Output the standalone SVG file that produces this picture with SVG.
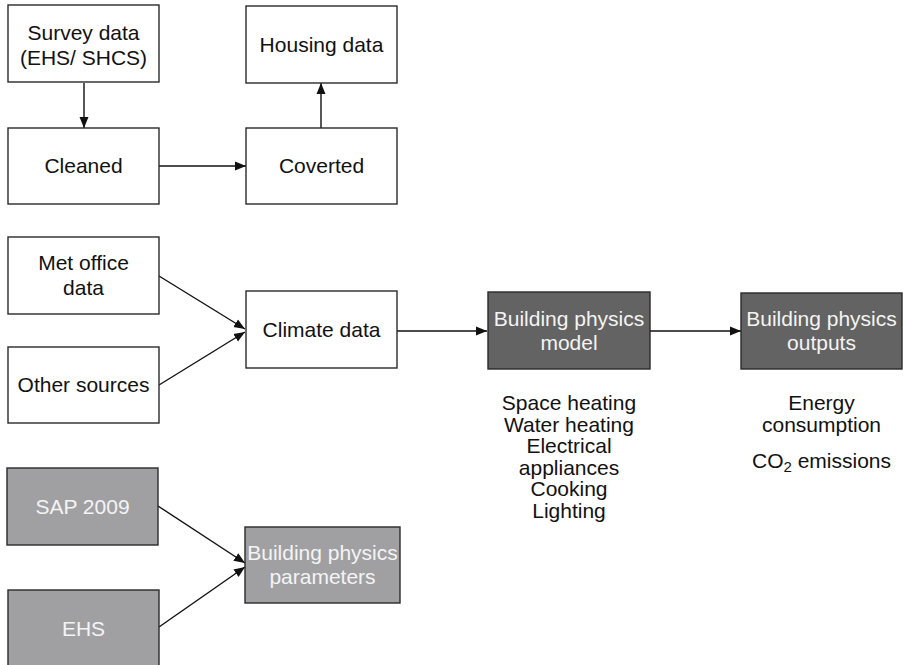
<svg xmlns="http://www.w3.org/2000/svg" width="903" height="665" viewBox="0 0 903 665">
<style>
.box{fill:#fff;stroke:#2a2a2a;stroke-width:1.4}
.lg{fill:#a0a0a3;stroke:#2a2a2a;stroke-width:1.4}
.dg{fill:#636363;stroke:#2a2a2a;stroke-width:1.4}
text{font-family:"Liberation Sans",Arial,sans-serif;font-size:21px;text-anchor:middle;fill:#111}
.w{fill:#f4f4f4}
.ln{stroke:#111;stroke-width:1.4;fill:none;marker-end:url(#ah)}
</style>
<defs>
<marker id="ah" markerUnits="userSpaceOnUse" markerWidth="12" markerHeight="10" refX="11" refY="5" orient="auto">
<path d="M0,0.5 L11,5 L0,9.5 z" fill="#111"/>
</marker>
</defs>
<g id="connectors">
<line class="ln" x1="84" y1="83" x2="84" y2="128"/>
<line class="ln" x1="159" y1="166" x2="246" y2="166"/>
<line class="ln" x1="321" y1="128" x2="321" y2="83"/>
<line class="ln" x1="159" y1="276" x2="245" y2="329"/>
<line class="ln" x1="159" y1="385" x2="245" y2="332"/>
<line class="ln" x1="397" y1="331" x2="487" y2="331"/>
<line class="ln" x1="650" y1="331" x2="741" y2="331"/>
<line class="ln" x1="158" y1="506" x2="245" y2="563"/>
<line class="ln" x1="159" y1="627" x2="245" y2="567"/>
</g>
<g id="survey"><rect class="box" x="8" y="5" width="151" height="77"/><text x="83.5" y="40">Survey data</text><text x="83.5" y="65">(EHS/ SHCS)</text></g>
<g id="housing"><rect class="box" x="246" y="6" width="151" height="77"/><text x="321.5" y="52">Housing data</text></g>
<g id="cleaned"><rect class="box" x="8" y="128" width="151" height="76"/><text x="83.5" y="173">Cleaned</text></g>
<g id="coverted"><rect class="box" x="246" y="128" width="151" height="76"/><text x="321.5" y="173">Coverted</text></g>
<g id="metoffice"><rect class="box" x="8" y="237" width="151" height="77"/><text x="83.5" y="270">Met office</text><text x="83.5" y="295">data</text></g>
<g id="othersources"><rect class="box" x="8" y="347" width="151" height="76"/><text x="83.5" y="392">Other sources</text></g>
<g id="climate"><rect class="box" x="246" y="291" width="151" height="77"/><text x="321.5" y="337">Climate data</text></g>
<g id="model"><rect class="dg" x="488" y="292" width="162" height="77"/><text class="w" x="569" y="326">Building physics</text><text class="w" x="569" y="350">model</text></g>
<g id="outputs"><rect class="dg" x="741" y="293" width="161" height="76"/><text class="w" x="821.5" y="326">Building physics</text><text class="w" x="821.5" y="350">outputs</text></g>
<g id="model-notes"><text x="569" y="410">Space heating</text><text x="569" y="431.5">Water heating</text><text x="569" y="453">Electrical</text><text x="569" y="474.5">appliances</text><text x="569" y="496">Cooking</text><text x="569" y="517.5">Lighting</text></g>
<g id="output-notes"><text x="821.5" y="410">Energy</text><text x="821.5" y="432">consumption</text><text x="821.5" y="468">CO<tspan font-size="15" dy="4">2</tspan><tspan dy="-4"> emissions</tspan></text></g>
<g id="sap"><rect class="lg" x="7" y="468" width="151" height="77"/><text class="w" x="82.5" y="514">SAP 2009</text></g>
<g id="ehs"><rect class="lg" x="8" y="590" width="151" height="77"/><text class="w" x="83.5" y="636">EHS</text></g>
<g id="parameters"><rect class="lg" x="245" y="527" width="155" height="76"/><text class="w" x="322.5" y="560">Building physics</text><text class="w" x="322.5" y="584">parameters</text></g>
</svg>
